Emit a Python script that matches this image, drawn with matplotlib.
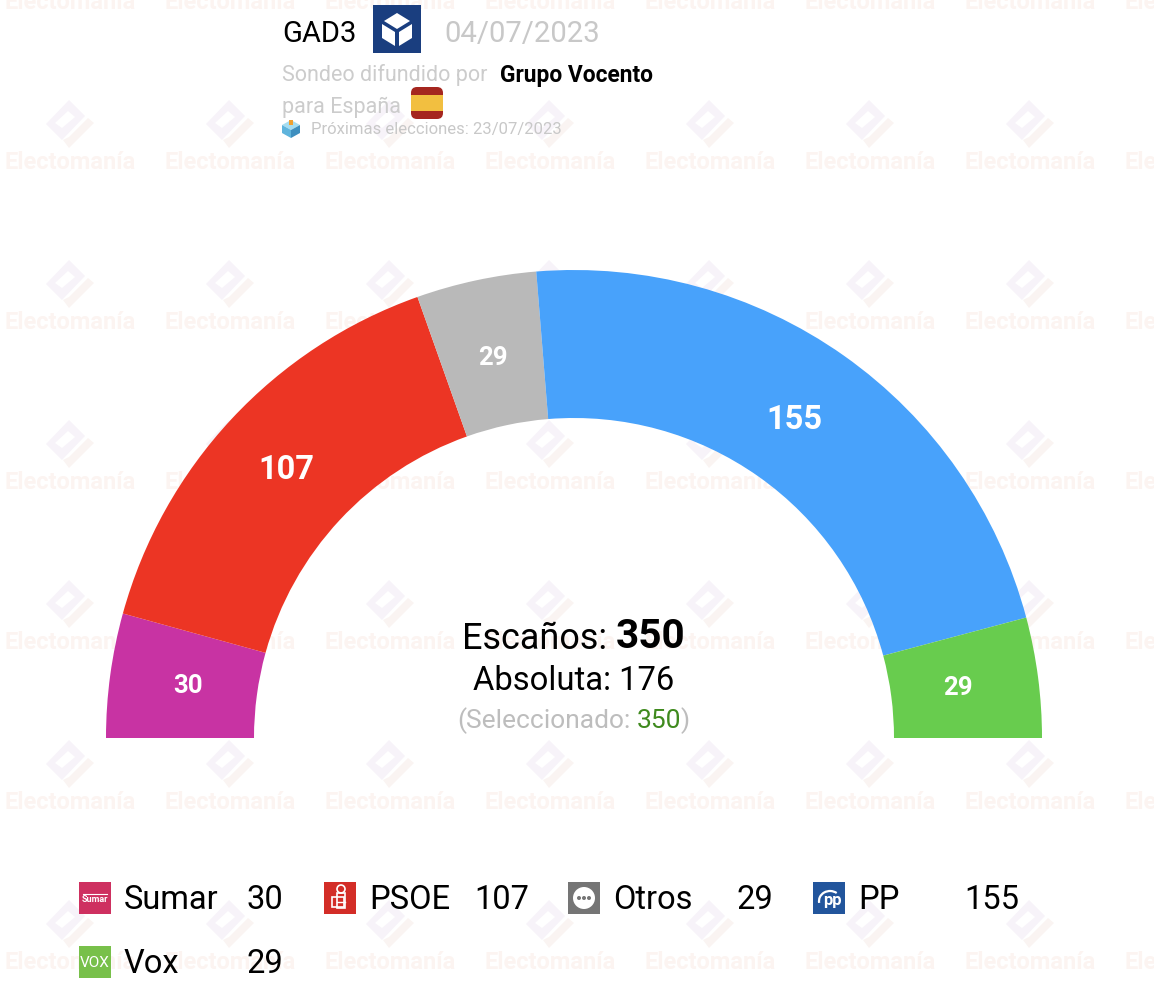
import numpy as np
import matplotlib
matplotlib.use("Agg")
import matplotlib.pyplot as plt
from matplotlib.patches import Wedge, Polygon, Rectangle, Circle, FancyBboxPatch, Arc

plt.rcParams['font.family'] = ['Roboto', 'DejaVu Sans']

parties = ['Sumar', 'PSOE', 'Otros', 'PP', 'Vox']
seats = [30, 107, 29, 155, 29]
colors = ['#C833A3', '#EC3524', '#B9B9B9', '#48A2FB', '#68CC4E']
logo_colors = ['#CE3060', '#D32D27', '#757575', '#22559C', '#78C04A']
total_seats = 350
majority = 176
selected = 350

# layout in pixels of the picture
cx, cy = 574, 738
r_out, r_in = 468, 320
label_radius = [389, 393, 389, 389, 387]
label_dx = [0, 0, 0, -4, 0]
legend_x = [79, 324, 568, 813, 79]
legend_y = [898, 898, 898, 898, 962]
legend_name_dx = 45
legend_val_x = [247, 474, 737, 964, 247]

fig = plt.figure(figsize=(11.54, 9.96), dpi=100)
ax = fig.add_axes([0, 0, 1, 1])
ax.set_xlim(0, 1154)
ax.set_ylim(996, 0)
ax.axis('off')


def poly(points, ox=0, oy=0, **kw):
    ax.add_patch(Polygon([(x + ox, y + oy) for x, y in points], closed=True, lw=0, **kw))


# watermark
for ox in range(0, 1280, 160):
    for oy in range(-160, 960, 160):
        poly([(69, 100), (85, 116), (62, 140), (46, 124)], ox, oy, fc='#F7F3F9', zorder=1)
        poly([(68, 111), (75, 117), (62, 128), (55, 123)], ox, oy, fc='white', zorder=1)
        poly([(63, 140), (69, 148), (94, 123), (88, 118), (69, 137)], ox, oy, fc='#FAF4F2', zorder=1)
        ax.text(70 + ox, 162 + oy, 'Electomanía', ha='center', va='center', fontsize=17,
                fontweight='bold', color='#FCF4F1', zorder=1)

# hemicycle, left to right; the y axis is flipped so angles run the other way
start = 180.0
for party, n, c, lr, dx in zip(parties, seats, colors, label_radius, label_dx):
    sweep = 180.0 * n / total_seats
    ax.add_patch(Wedge((cx, cy), r_out, start, start + sweep, width=r_out - r_in,
                       fc=c, ec='none', zorder=2))
    mid = np.radians(start + sweep / 2)
    big = n > 100
    ax.text(cx + lr * np.cos(mid) + dx, cy + lr * np.sin(mid), str(n), ha='center', va='center',
            color='white', fontweight='bold', fontsize=23.5 if big else 18.5, zorder=3)
    start += sweep

# centre text
ax.text(607, 639, 'Escaños:', ha='right', va='center', fontsize=25.9, color='black', zorder=3)
ax.text(616, 637, str(total_seats), ha='left', va='center', fontsize=29.2, fontweight='bold', color='black', zorder=3)
ax.text(574, 681, f'Absoluta: {majority}', ha='center', va='center', fontsize=23.6, color='black', zorder=3)
ax.text(457, 721, '(Seleccionado:', ha='left', va='center', fontsize=19, color='#BDBDBD', zorder=3)
ax.text(637, 721, str(selected), ha='left', va='center', fontsize=19, color='#3F8A1E', zorder=3)
ax.text(681, 721, ')', ha='left', va='center', fontsize=19, color='#BDBDBD', zorder=3)

# header
ax.text(282, 34, 'GAD3', ha='left', va='center', fontsize=21, color='black', zorder=3)
ax.add_patch(Rectangle((373, 5), 48, 48, fc='#1A3E7F', ec='none', zorder=3))
poly([(397, 13), (410, 21), (397, 29), (384, 21)], fc='white', zorder=4)
poly([(382, 24), (395, 32), (395, 46), (382, 38)], fc='white', zorder=4)
poly([(412, 24), (399, 32), (399, 46), (412, 38)], fc='white', zorder=4)
ax.text(444, 34, '04/07/2023', ha='left', va='center', fontsize=21.1, color='#C8C8C8', zorder=3)
ax.text(282, 75, 'Sondeo difundido por', ha='left', va='center', fontsize=15.5, color='#CCCCCC', zorder=3)
ax.text(500, 75, 'Grupo Vocento', ha='left', va='center', fontsize=16.4, fontweight='bold', color='black', zorder=3)
ax.text(282, 107, 'para España', ha='left', va='center', fontsize=15.5, color='#CCCCCC', zorder=3)
ax.add_patch(FancyBboxPatch((411, 87), 32, 32, boxstyle='round,pad=0,rounding_size=6',
                            fc='#A5261F', ec='none', zorder=3))
ax.add_patch(Rectangle((411, 95), 32, 16, fc='#F2BF40', ec='none', zorder=4))
poly([(291, 120), (300, 125), (291, 130), (282, 125)], fc='#A6DDF0', zorder=3)
poly([(282, 125), (291, 130), (291, 138), (282, 133)], fc='#5FB4DC', zorder=3)
poly([(300, 125), (291, 130), (291, 138), (300, 133)], fc='#3E8FBF', zorder=3)
ax.add_patch(Rectangle((289, 120), 4, 5, fc='#F0A030', ec='none', zorder=4))
ax.text(311, 129, 'Próximas elecciones: 23/07/2023', ha='left', va='center', fontsize=12, color='#C8C8C8', zorder=3)

# legend
for i, party in enumerate(parties):
    x, y = legend_x[i], legend_y[i]
    ax.add_patch(Rectangle((x, y - 16), 32, 32, fc=logo_colors[i], ec='none', zorder=3))
    if party == 'Sumar':
        ax.text(x + 16, y + 1, 'Sumar', ha='center', va='center', fontsize=6.5, fontweight='bold', color='white', zorder=4)
        ax.plot([x + 4, x + 28], [y - 4, y - 4], color='white', lw=0.8, zorder=4)
    elif party == 'PSOE':
        ax.add_patch(Circle((x + 17, y - 9), 4, fc='none', ec='white', lw=1.2, zorder=4))
        ax.add_patch(Rectangle((x + 13, y - 5), 8, 15, fc='none', ec='white', lw=1.2, zorder=4))
        ax.add_patch(Rectangle((x + 8, y - 1), 12, 10, fc='none', ec='white', lw=1.2, zorder=4))
        ax.plot([x + 13, x + 21], [y + 4, y + 4], color='white', lw=1, zorder=4)
    elif party == 'Otros':
        ax.add_patch(Circle((x + 16, y), 11, fc='white', ec='none', zorder=4))
        for d in (-5, 0, 5):
            ax.add_patch(Circle((x + 16 + d, y), 2, fc='#757575', ec='none', zorder=5))
    elif party == 'PP':
        ax.text(x + 19, y + 2, 'pp', ha='center', va='center', fontsize=12, fontweight='bold', color='white', zorder=4)
        ax.add_patch(Arc((x + 17, y + 3), 22, 20, theta1=170, theta2=310, ec='white', lw=1.6, zorder=4))
    elif party == 'Vox':
        ax.text(x + 16, y + 1, 'VOX', ha='center', va='center', fontsize=11, color='white', zorder=4)
    ax.text(x + legend_name_dx, y + 2, party, ha='left', va='center', fontsize=23.5, color='black', zorder=3)
    ax.text(legend_val_x[i], y + 2, str(seats[i]), ha='left', va='center', fontsize=23.5, color='black', zorder=3)

fig.savefig('out.png', dpi=100, facecolor='white')
